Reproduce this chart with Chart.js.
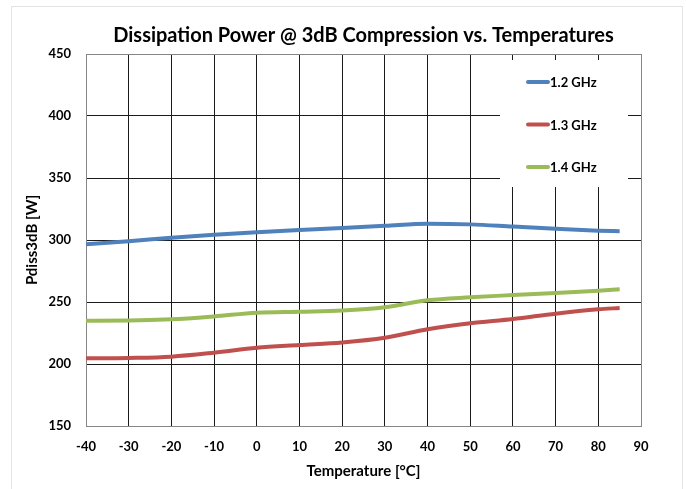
<!DOCTYPE html>
<html>
<head>
<meta charset="utf-8">
<script src="https://cdn.jsdelivr.net/npm/chart.js@4/dist/chart.umd.min.js"></script>
<style>
html,body{margin:0;padding:0;background:#fff;}
#wrap{width:686px;height:489px;position:relative;}
</style>
</head>
<body>
<div id="wrap"><canvas id="c" width="686" height="489"></canvas></div>
<script>
const temps = [-40, -30, -20, -10, 0, 10, 20, 30, 40, 50, 60, 70, 80, 85];
const seriesNames = ['1.2 GHz', '1.3 GHz', '1.4 GHz'];
const pdiss12 = [296.5, 299, 301.8, 304.2, 306.2, 308, 309.6, 311.4, 313.2, 312.6, 310.8, 309, 307.5, 307];
const pdiss13 = [204.6, 204.9, 205.9, 209.1, 213.1, 215.3, 217.4, 221.2, 228, 232.8, 236.2, 240.6, 244.1, 245.2];
const pdiss14 = [234.9, 235, 236, 238.4, 241.4, 242.2, 243.1, 245.7, 251.4, 253.8, 255.6, 257.3, 259.1, 260.2];
const xTicks = [-40, -30, -20, -10, 0, 10, 20, 30, 40, 50, 60, 70, 80, 90];
const yTicks = [150, 200, 250, 300, 350, 400, 450];
const colors = ['#4F81BD', '#C0504D', '#9BBB59'];

const FONT = 'Lato, "Liberation Sans", sans-serif';
const toPts = ys => temps.map((t, i) => ({x: t, y: ys[i]}));

const frame = {
  id: 'frame',
  beforeDraw(chart) {
    const ctx = chart.ctx;
    ctx.save();
    ctx.fillStyle = '#fff';
    ctx.fillRect(0, 0, chart.width, chart.height);
    ctx.strokeStyle = '#e3e3e3';
    ctx.lineWidth = 1;
    ctx.strokeRect(11.5, 6.5, 671, 495);
    ctx.restore();
  }
};

const boxLegend = {
  id: 'boxLegend',
  afterDraw(chart) {
    const ctx = chart.ctx;
    const a = chart.chartArea;
    ctx.save();
    ctx.fillStyle = '#fff';
    ctx.fillRect(a.right - 141, a.top + 6, 128, 127);
    ctx.font = 'bold 13px ' + FONT;
    ctx.textBaseline = 'middle';
    ctx.textAlign = 'left';
    chart.data.datasets.forEach((ds, i) => {
      const y = a.top + 28 + i * 42.5;
      ctx.strokeStyle = ds.borderColor;
      ctx.lineWidth = 4;
      ctx.lineCap = 'round';
      ctx.beginPath();
      ctx.moveTo(a.right - 113, y);
      ctx.lineTo(a.right - 93, y);
      ctx.stroke();
      ctx.fillStyle = '#000';
      ctx.fillText(ds.label, a.right - 91, y + 1);
    });
    ctx.restore();
  }
};

const edgeColor = (ctx) => {
  const s = ctx.scale;
  const v = ctx.tick && ctx.tick.value;
  return (v === s.min || v === s.max) ? '#868686' : '#1a1a1a';
};

new Chart(document.getElementById('c'), {
  type: 'line',
  data: {
    datasets: [
      {label: seriesNames[0], data: toPts(pdiss12), borderColor: colors[0]},
      {label: seriesNames[1], data: toPts(pdiss13), borderColor: colors[1]},
      {label: seriesNames[2], data: toPts(pdiss14), borderColor: colors[2]}
    ].map(d => Object.assign(d, {borderWidth: 4, pointRadius: 0, tension: 0.4, cubicInterpolationMode: 'monotone', fill: false}))
  },
  options: {
    responsive: false,
    animation: false,
    devicePixelRatio: 1,
    layout: {padding: {left: 0, right: 45, top: 0, bottom: 0}},
    plugins: {
      legend: {display: false},
      tooltip: {enabled: false},
      title: {
        display: true,
        fullSize: false,
        text: 'Dissipation Power @ 3dB Compression vs. Temperatures',
        color: '#000',
        font: {family: FONT, size: 20, weight: 'bold'},
        padding: {top: 24, bottom: 6}
      }
    },
    scales: {
      x: {
        type: 'linear',
        min: -40, max: 90,
        afterBuildTicks: s => { s.ticks = xTicks.map(v => ({value: v})); },
        afterFit: s => { s.height = 63; },
        ticks: {color: '#000', font: {family: FONT, size: 13, weight: 'bold'}, padding: 13, maxRotation: 0},
        grid: {color: edgeColor, lineWidth: 1, drawTicks: false},
        border: {color: '#868686', width: 1},
        title: {display: true, text: 'Temperature [°C]', color: '#000', font: {family: FONT, size: 15, weight: 'bold'}, padding: {top: 0, bottom: 9}}
      },
      y: {
        min: 150, max: 450,
        afterBuildTicks: s => { s.ticks = yTicks.map(v => ({value: v})); },
        afterFit: s => { s.width = 86; },
        ticks: {color: '#000', font: {family: FONT, size: 13, weight: 'bold'}, padding: 15},
        grid: {color: edgeColor, lineWidth: 1, drawTicks: false},
        border: {color: '#868686', width: 1},
        title: {display: true, text: 'Pdiss3dB [W]', color: '#000', font: {family: FONT, size: 15, weight: 'bold'}, padding: {top: 22.7, bottom: 0}}
      }
    }
  },
  plugins: [frame, boxLegend]
});
</script>
</body>
</html>
